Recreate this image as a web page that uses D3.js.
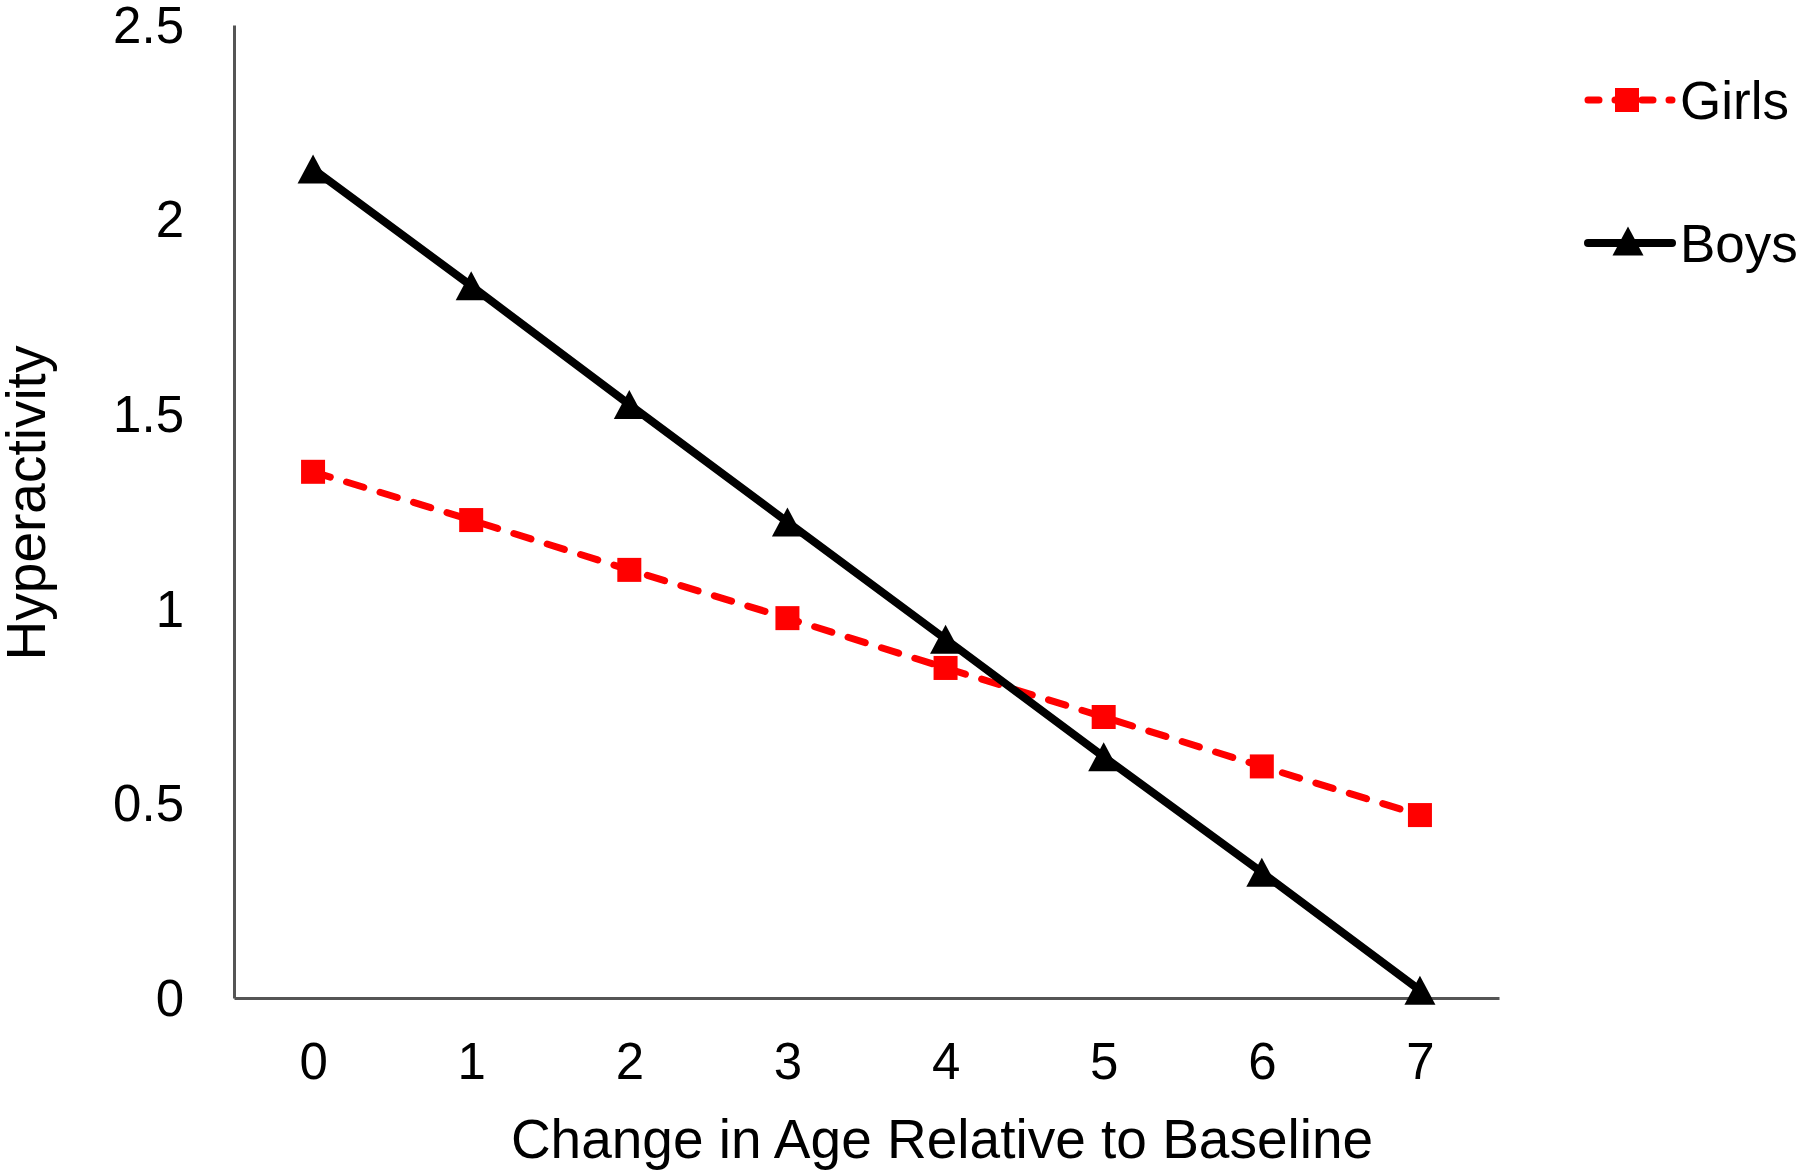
<!DOCTYPE html>
<html>
<head>
<meta charset="utf-8">
<script src="https://cdn.jsdelivr.net/npm/d3@7"></script>
<style>
  html, body { margin: 0; padding: 0; background: #fff; }
  svg { display: block; }
  text { font-family: Arial, "Liberation Sans", sans-serif; fill: #000; }
</style>
</head>
<body>
<script>
const ageChange = [0, 1, 2, 3, 4, 5, 6, 7];
const girls = [1.352, 1.228, 1.10, 0.976, 0.848, 0.722, 0.595, 0.470];
const boys  = [2.13, 1.83, 1.525, 1.223, 0.922, 0.62, 0.323, 0.02];
const yTicks = [0, 0.5, 1, 1.5, 2, 2.5];
const yTickLabels = ["0", "0.5", "1", "1.5", "2", "2.5"];
const seriesNames = ["Girls", "Boys"];
const xTitle = "Change in Age Relative to Baseline";
const yTitle = "Hyperactivity";

const W = 1800, H = 1171;
const svg = d3.select("body").append("svg").attr("width", W).attr("height", H);

const x = d3.scaleLinear().domain([-0.5, 7.5]).range([234, 1499]);
const y = d3.scaleLinear().domain([0, 2.5]).range([998, 25]);

// Axes (no tick marks)
const yAxis = d3.axisLeft(y).tickValues(yTicks).tickSize(0).tickPadding(50)
  .tickFormat((d, i) => yTickLabels[i]);
const gy = svg.append("g").attr("transform", `translate(${x.range()[0]},0)`).call(yAxis);
gy.select(".domain").attr("stroke", "#555").attr("stroke-width", 3);
gy.selectAll("text").style("font-size", "51px").attr("dy", "0.34em")
  .attr("font-family", "Arial, 'Liberation Sans', sans-serif").attr("fill", "#000");

const xAxis = d3.axisBottom(x).tickValues(ageChange).tickSize(0).tickPadding(45)
  .tickFormat(d3.format("d"));
const gx = svg.append("g").attr("transform", `translate(0,${y(0)})`).call(xAxis);
gx.select(".domain").attr("stroke", "#555").attr("stroke-width", 3);
gx.selectAll("text").style("font-size", "51px")
  .attr("font-family", "Arial, 'Liberation Sans', sans-serif").attr("fill", "#000");

// Titles
svg.append("text").attr("x", 942).attr("y", 1158).attr("text-anchor", "middle")
  .style("font-size", "55px").text(xTitle);
svg.append("text").attr("transform", "translate(45,503) rotate(-90)")
  .attr("text-anchor", "middle").style("font-size", "55px").text(yTitle);

const line = d3.line().x((d, i) => x(ageChange[i])).y(d => y(d));

// Girls line (red dashed)
svg.append("path").datum(girls).attr("d", line)
  .attr("fill", "none").attr("stroke", "#ff0000").attr("stroke-width", 7)
  .attr("stroke-dasharray", "18,17").attr("stroke-linecap", "round");

// Boys line (black solid)
svg.append("path").datum(boys).attr("d", line)
  .attr("fill", "none").attr("stroke", "#000").attr("stroke-width", 8);

const sq = 24;
const triW = 31, triH = 29;
const triPath = (cx, cy) => `M${cx},${cy - triH / 2}L${cx + triW / 2},${cy + triH / 2}L${cx - triW / 2},${cy + triH / 2}Z`;

// Girls markers
svg.append("g").selectAll("rect").data(girls).join("rect")
  .attr("x", (d, i) => x(ageChange[i]) - sq / 2)
  .attr("y", d => y(d) - sq / 2)
  .attr("width", sq).attr("height", sq).attr("fill", "#ff0000");

// Boys markers
svg.append("g").selectAll("path").data(boys).join("path")
  .attr("d", (d, i) => triPath(x(ageChange[i]), y(d)))
  .attr("fill", "#000");

// Legend
const legX0 = 1588, legX1 = 1672, legTextX = 1680;
const legY = [100, 243];
const lg = svg.append("g");
// Girls legend
lg.append("line").attr("x1", legX0).attr("x2", legX1).attr("y1", legY[0]).attr("y2", legY[0])
  .attr("stroke", "#ff0000").attr("stroke-width", 7)
  .attr("stroke-dasharray", "11,16").attr("stroke-linecap", "round");
lg.append("rect").attr("x", (legX0 + legX1) / 2 - sq / 2 - 3).attr("y", legY[0] - sq / 2)
  .attr("width", sq).attr("height", sq).attr("fill", "#ff0000");
lg.append("text").attr("x", legTextX).attr("y", legY[0]).attr("dy", "0.35em")
  .style("font-size", "53px").text(seriesNames[0]);
// Boys legend
lg.append("line").attr("x1", legX0).attr("x2", legX1).attr("y1", legY[1]).attr("y2", legY[1])
  .attr("stroke", "#000").attr("stroke-width", 8).attr("stroke-linecap", "round");
lg.append("path").attr("d", triPath((legX0 + legX1) / 2 - 2, legY[1] - 2)).attr("fill", "#000");
lg.append("text").attr("x", legTextX).attr("y", legY[1]).attr("dy", "0.35em")
  .style("font-size", "53px").text(seriesNames[1]);
</script>
</body>
</html>
